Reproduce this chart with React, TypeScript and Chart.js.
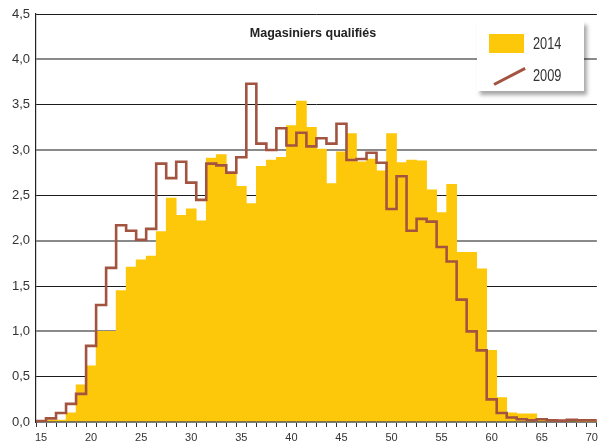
import React, { useEffect, useRef } from "react";
import { Chart, registerables } from "chart.js";

Chart.register(...registerables);

// Ages (categories)
const ages: number[] = [
  15, 16, 17, 18, 19, 20, 21, 22, 23, 24, 25, 26, 27, 28, 29, 30, 31, 32, 33, 34,
  35, 36, 37, 38, 39, 40, 41, 42, 43, 44, 45, 46, 47, 48, 49, 50, 51, 52, 53, 54,
  55, 56, 57, 58, 59, 60, 61, 62, 63, 64, 65, 66, 67, 68, 69, 70,
];

// 2014 (bars), in %
const values2014: number[] = [
  0.01, 0.02, 0.02, 0.1, 0.41, 0.62, 1.0, 1.0, 1.45, 1.71, 1.79, 1.83, 2.1, 2.47, 2.28, 2.35, 2.22, 2.91, 2.95, 2.74,
  2.6, 2.41, 2.82, 2.89, 2.92, 3.27, 3.54, 3.25, 3.01, 2.63, 2.98, 3.18, 2.87, 2.9, 2.77, 3.18, 2.86, 2.89, 2.88, 2.56,
  2.31, 2.62, 1.87, 1.87, 1.69, 0.79, 0.27, 0.1, 0.09, 0.09, 0.04, 0.02, 0.01, 0.02, 0.01, 0.01,
];

// 2009 (step line), in %
const values2009: number[] = [
  0.01, 0.04, 0.1, 0.2, 0.31, 0.84, 1.29, 1.7, 2.17, 2.11, 2.01, 2.13, 2.85, 2.69, 2.87, 2.64, 2.45, 2.85, 2.83, 2.75,
  2.92, 3.73, 3.07, 3.0, 3.24, 3.05, 3.19, 3.04, 3.13, 3.07, 3.29, 2.89, 2.9, 2.97, 2.86, 2.35, 2.71, 2.11, 2.24, 2.21,
  1.93, 1.77, 1.35, 1.0, 0.79, 0.25, 0.1, 0.05, 0.03, 0.02, 0.03, 0.02, 0.015, 0.025, 0.02, 0.02,
];

const yTicks: number[] = [0, 0.5, 1, 1.5, 2, 2.5, 3, 3.5, 4, 4.5];

const title = "Magasiniers qualifiés";
const seriesLabels = ["2014", "2009"];

const YELLOW = "#FDC80A";
const BROWN = "#A35440";
const FONT = "'Liberation Sans', Arial, sans-serif";

export default function App() {
  const canvasRef = useRef<HTMLCanvasElement | null>(null);

  useEffect(() => {
    const canvas = canvasRef.current;
    if (!canvas) return;

    // step-line points at bar edges, derived from the age categories
    const linePoints = ages.map((a, i) => ({ x: a - 0.5, y: values2009[i] }));
    linePoints.push({ x: ages[ages.length - 1] + 0.5, y: values2009[values2009.length - 1] });

    const chart = new Chart(canvas, {
      type: "bar",
      data: {
        labels: ages.map(String),
        datasets: [
          {
            type: "line",
            label: seriesLabels[1],
            data: linePoints as any,
            xAxisID: "xl",
            yAxisID: "y",
            borderColor: BROWN,
            borderWidth: 2.6,
            pointRadius: 0,
            fill: false,
            stepped: "before",
            order: 0,
          } as any,
          {
            type: "bar",
            label: seriesLabels[0],
            data: values2014,
            xAxisID: "x",
            yAxisID: "y",
            backgroundColor: YELLOW,
            borderWidth: 0,
            barPercentage: 1,
            categoryPercentage: 1,
            grouped: false,
            order: 1,
          } as any,
        ],
      },
      options: {
        responsive: false,
        animation: false,
        layout: { padding: { left: 0, right: 3, top: 14, bottom: 0 } },
        datasets: { bar: { barPercentage: 1, categoryPercentage: 1 } },
        plugins: {
          legend: { display: false },
          tooltip: { enabled: false },
          title: { display: false },
        },
        scales: {
          x: {
            type: "category",
            offset: true,
            grid: {
              display: true,
              drawOnChartArea: false,
              drawTicks: true,
              tickLength: 5,
              color: "#333",
              lineWidth: 1,
              offset: true,
            },
            border: { display: true, color: "#555", width: 1.2 },
            ticks: {
              autoSkip: false,
              maxRotation: 0,
              minRotation: 0,
              padding: 4,
              color: "#333",
              font: { family: FONT, size: 11 },
              callback: (_v: any, idx: number) => (ages[idx] % 5 === 0 ? String(ages[idx]) : ""),
            },
            afterFit: (scale: any) => {
              scale.height = 21;
            },
          },
          xl: {
            type: "linear",
            display: false,
            offset: false,
            grid: { offset: false },
            min: ages[0] - 0.5,
            max: ages[ages.length - 1] + 0.5,
          },
          y: {
            type: "linear",
            min: yTicks[0],
            max: yTicks[yTicks.length - 1],
            afterBuildTicks: (scale: any) => {
              scale.ticks = yTicks.map((v) => ({ value: v }));
            },
            grid: {
              drawTicks: false,
              color: (ctx: any) => (ctx.tick && Math.abs(ctx.tick.value % 1) < 1e-9 ? "#8a8a8a" : "#1c1c1c"),
              lineWidth: (ctx: any) => (ctx.tick && Math.abs(ctx.tick.value % 1) < 1e-9 ? 2 : 1),
            },
            border: { display: true, color: "#222", width: 1.2 },
            ticks: {
              padding: 6,
              color: "#333",
              font: { family: FONT, size: 13 },
              callback: (v: any) => Number(v).toFixed(1).replace(".", ","),
            },
            afterFit: (scale: any) => {
              scale.width = 36;
            },
          },
        },
      } as any,
    });

    return () => {
      chart.destroy();
    };
  }, []);

  const legendText: React.CSSProperties = {
    position: "absolute",
    left: 56,
    height: 20,
    lineHeight: "20px",
    fontFamily: FONT,
    fontSize: 16,
    color: "#333",
    transform: "scaleX(0.8)",
    transformOrigin: "left center",
  };

  return (
    <div style={{ position: "fixed", left: 0, top: 0, width: 602, height: 443, background: "#fff", overflow: "hidden" }}>
      <canvas ref={canvasRef} width={602} height={443} style={{ display: "block", width: 602, height: 443 }} />
      <div
        style={{
          position: "absolute",
          left: 213,
          top: 25,
          width: 200,
          textAlign: "center",
          fontFamily: FONT,
          fontWeight: "bold",
          fontSize: 12.5,
          color: "#222",
          lineHeight: "16px",
        }}
      >
        {title}
      </div>
      <div
        style={{
          position: "absolute",
          left: 477,
          top: 21,
          width: 107,
          height: 70,
          background: "#fff",
          boxShadow: "3px 4px 4px rgba(0,0,0,0.35)",
        }}
      >
        <div style={{ position: "absolute", left: 12, top: 13, width: 35, height: 19, background: YELLOW }} />
        <div style={{ ...legendText, top: 13 }}>{seriesLabels[0]}</div>
        <div
          style={{
            position: "absolute",
            left: 15,
            top: 54,
            width: 35,
            height: 2.6,
            background: BROWN,
            transform: "rotate(-27.3deg)",
          }}
        />
        <div style={{ ...legendText, top: 45 }}>{seriesLabels[1]}</div>
      </div>
    </div>
  );
}
